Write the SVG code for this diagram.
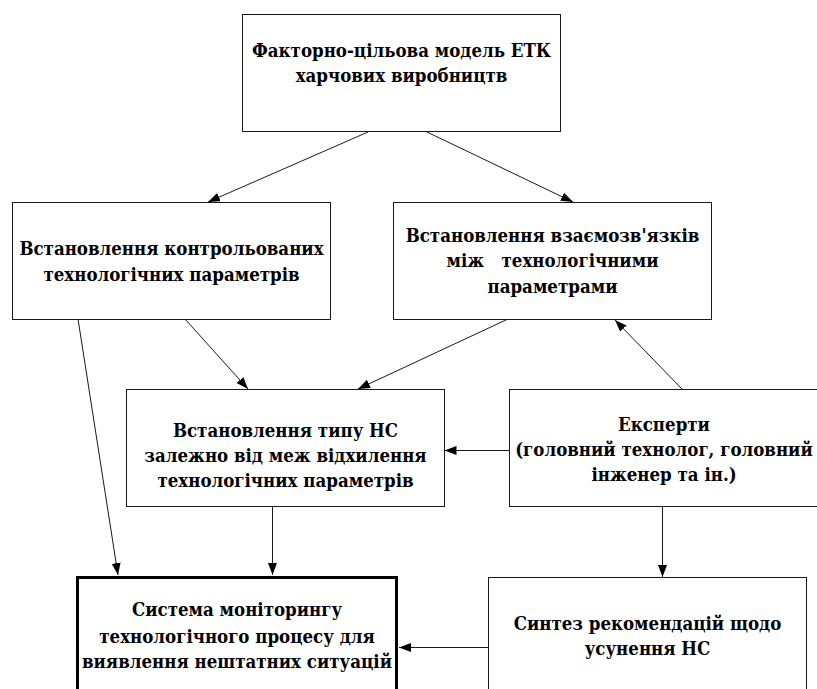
<svg xmlns="http://www.w3.org/2000/svg" width="817" height="689" viewBox="0 0 817 689">
  <style>
    .box { fill: #fff; stroke: #1a1a1a; stroke-width: 1; }
    .main { fill: #fff; stroke: #000; stroke-width: 3; }
    .lbl { font-family: "DejaVu Serif Condensed", "DejaVu Serif", serif; font-stretch: condensed; font-weight: bold; font-size: 18.5px; fill: #000; text-anchor: middle; }
    .edge { stroke: #1a1a1a; stroke-width: 1; fill: none; marker-end: url(#arrow); }
  </style>
  <defs>
    <marker id="arrow" markerUnits="userSpaceOnUse" markerWidth="13" markerHeight="10" refX="12" refY="4.5" orient="auto">
      <path d="M0,0 L12,4.5 L0,9 z" fill="#000"/>
    </marker>
  </defs>

  <rect x="0" y="0" width="817" height="689" fill="#fff"/>

  <!-- connectors -->
  <g id="connectors">
    <line class="edge" x1="368" y1="132" x2="208" y2="202"/>
    <line class="edge" x1="427" y1="132" x2="573" y2="202"/>
    <line class="edge" x1="78" y1="319" x2="118" y2="575"/>
    <line class="edge" x1="185" y1="319" x2="248" y2="389"/>
    <line class="edge" x1="508" y1="319" x2="358" y2="389"/>
    <line class="edge" x1="682" y1="389" x2="615" y2="320"/>
    <line class="edge" x1="509" y1="450.5" x2="444.5" y2="450.5"/>
    <line class="edge" x1="272.5" y1="506" x2="272.5" y2="575"/>
    <line class="edge" x1="662.5" y1="506" x2="662.5" y2="577"/>
    <line class="edge" x1="488" y1="647.5" x2="399" y2="647.5"/>
  </g>

  <!-- nodes -->
  <g id="factor-model">
    <rect class="box" x="242.5" y="14.5" width="318" height="117"/>
    <text class="lbl" x="401.5" y="57">Факторно-цільова модель ЕТК</text>
    <text class="lbl" x="401.5" y="81.5">харчових виробництв</text>
  </g>

  <g id="controlled-params">
    <rect class="box" x="12.5" y="202.5" width="318" height="117"/>
    <text class="lbl" x="171.5" y="255">Встановлення контрольованих</text>
    <text class="lbl" x="171.5" y="280.5">технологічних параметрів</text>
  </g>

  <g id="interrelations">
    <rect class="box" x="393.5" y="202.5" width="318" height="117"/>
    <text class="lbl" x="552.5" y="241.5">Встановлення взаємозв'язків</text>
    <text class="lbl" x="552.5" y="267" style="white-space:pre" xml:space="preserve">між   технологічними</text>
    <text class="lbl" x="552.5" y="292.5">параметрами</text>
  </g>

  <g id="emergency-type">
    <rect class="box" x="126.5" y="389.5" width="318" height="117"/>
    <text class="lbl" x="285.5" y="437">Встановлення типу НС</text>
    <text class="lbl" x="285.5" y="462">залежно від меж відхилення</text>
    <text class="lbl" x="285.5" y="486.5">технологічних параметрів</text>
  </g>

  <g id="experts">
    <rect class="box" x="509.5" y="389.5" width="320" height="117"/>
    <text class="lbl" x="664" y="431">Експерти</text>
    <text class="lbl" x="664" y="456">(головний технолог, головний</text>
    <text class="lbl" x="664" y="481">інженер та ін.)</text>
  </g>

  <g id="monitoring-system">
    <rect class="main" x="77.5" y="577.5" width="319" height="130"/>
    <text class="lbl" x="237" y="616">Система моніторингу</text>
    <text class="lbl" x="237" y="642.5">технологічного процесу для</text>
    <text class="lbl" x="237" y="668">виявлення нештатних ситуацій</text>
  </g>

  <g id="recommendations">
    <rect class="box" x="488.5" y="577.5" width="318" height="130"/>
    <text class="lbl" x="647.5" y="630">Синтез рекомендацій щодо</text>
    <text class="lbl" x="647.5" y="654.5">усунення НС</text>
  </g>
</svg>
